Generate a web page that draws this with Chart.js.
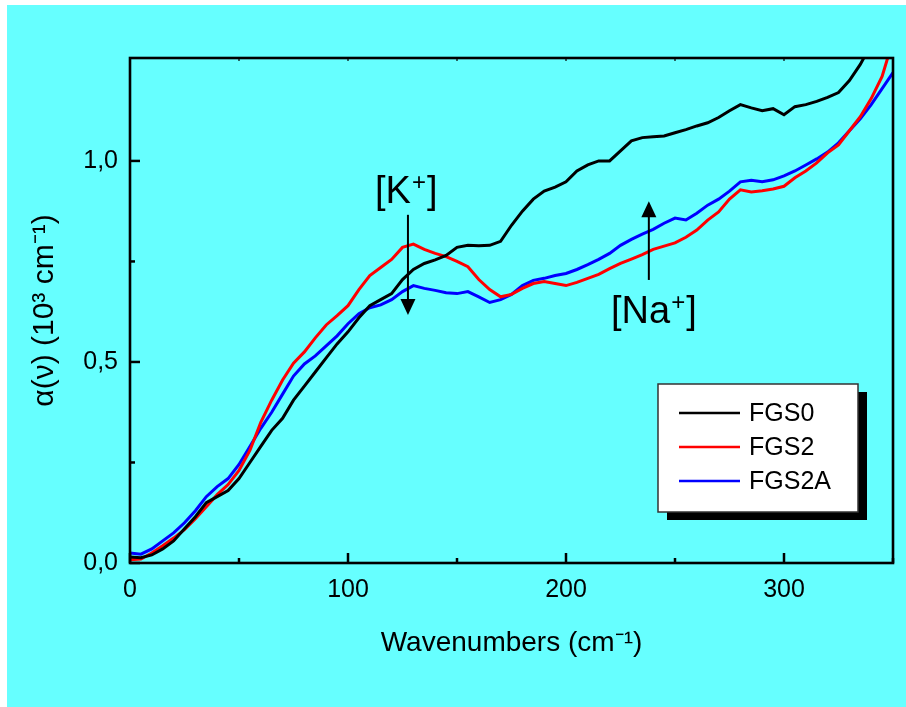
<!DOCTYPE html>
<html><head><meta charset="utf-8">
<script src="https://cdn.jsdelivr.net/npm/chart.js@4.4.1/dist/chart.umd.min.js"></script>
<style>html,body{margin:0;padding:0;background:#fff;}#wrap{position:absolute;left:0;top:0;width:906px;height:707px;}</style>
</head><body><div id="wrap"><canvas id="c" width="906" height="707"></canvas></div>
<script>
const wavenumbers = [0,5,10,15,20,25,30,35,40,45,50,55,60,65,70,75,80,85,90,95,100,105,110,115,120,125,130,135,140,145,150,155,160,165,170,175,180,185,190,195,200,205,210,215,220,225,230,235,240,245,250,255,260,265,270,275,280,285,290,295,300,305,310,315,320,325,330,335,340,345,350];
const fgs0 = [0.015,0.013,0.02,0.035,0.055,0.085,0.115,0.15,0.165,0.18,0.21,0.25,0.29,0.33,0.36,0.405,0.44,0.475,0.51,0.545,0.575,0.61,0.64,0.655,0.67,0.705,0.73,0.745,0.754,0.765,0.785,0.79,0.789,0.79,0.80,0.84,0.875,0.905,0.925,0.935,0.948,0.975,0.99,1.0,1.0,1.025,1.05,1.058,1.06,1.062,1.07,1.078,1.087,1.095,1.108,1.125,1.14,1.132,1.125,1.13,1.115,1.135,1.14,1.148,1.158,1.17,1.20,1.24,1.29];
const fgs2 = [0.008,0.01,0.025,0.043,0.062,0.083,0.11,0.14,0.17,0.195,0.23,0.28,0.35,0.405,0.455,0.497,0.525,0.56,0.592,0.615,0.64,0.68,0.715,0.735,0.755,0.785,0.793,0.78,0.77,0.762,0.75,0.737,0.705,0.68,0.662,0.668,0.683,0.695,0.70,0.695,0.69,0.698,0.708,0.718,0.732,0.745,0.756,0.767,0.78,0.788,0.796,0.81,0.828,0.853,0.873,0.905,0.928,0.923,0.926,0.93,0.937,0.958,0.975,0.995,1.02,1.04,1.075,1.11,1.155,1.21,1.30];
const fgs2a = [0.025,0.022,0.035,0.055,0.075,0.1,0.13,0.165,0.19,0.21,0.245,0.29,0.335,0.375,0.42,0.465,0.495,0.515,0.54,0.565,0.595,0.62,0.635,0.642,0.655,0.675,0.69,0.683,0.678,0.672,0.67,0.675,0.662,0.648,0.655,0.668,0.69,0.703,0.708,0.715,0.72,0.73,0.742,0.755,0.77,0.79,0.805,0.818,0.83,0.845,0.858,0.853,0.87,0.89,0.905,0.925,0.948,0.952,0.948,0.953,0.963,0.975,0.99,1.005,1.022,1.045,1.075,1.105,1.14,1.18,1.22];
const seriesNames = ['FGS0','FGS2','FGS2A'];
const seriesColors = ['#000000','#ff0000','#0000ff'];
const xTickValues = [0,50,100,150,200,250,300,350];
const xTickLabels = ['0','','100','','200','','300',''];
const yTickValues = [0,0.25,0.5,0.75,1.0];
const yTickLabels = ['0,0','','0,5','','1,0'];
const annotations = [
  {text:'[K', sup:'+', tail:']', x:127.5, yFrom:0.866, yTo:0.617, textX:375, textBase:203},
  {text:'[Na', sup:'+', tail:']', x:238, yFrom:0.704, yTo:0.90, textX:611, textBase:323}
];
const FONT = '"Liberation Sans", Arial, sans-serif';

function mk(vals){ return wavenumbers.slice(0, vals.length).map((w,i)=>({x:w,y:vals[i]})); }

const bgPlugin = {
  id:'bg',
  beforeDraw(chart){
    const ctx = chart.ctx;
    ctx.save();
    ctx.fillStyle = '#ffffff';
    ctx.fillRect(0,0,chart.width,chart.height);
    ctx.fillStyle = '#66ffff';
    ctx.fillRect(7,5,chart.width-7,chart.height-5);
    ctx.restore();
  }
};

const framePlugin = {
  id:'frame',
  afterDraw(chart){
    const ctx = chart.ctx, a = chart.chartArea;
    const xs = chart.scales.x, ys = chart.scales.y;
    ctx.save();
    ctx.strokeStyle = '#000';
    ctx.lineWidth = 2.5;
    xTickValues.forEach((v,i)=>{
      const px = xs.getPixelForValue(v);
      const len = xTickLabels[i] ? 10 : 5;
      ctx.beginPath(); ctx.moveTo(px, a.bottom); ctx.lineTo(px, a.bottom-len); ctx.stroke();
      ctx.lineWidth = 1.2;
      ctx.beginPath(); ctx.moveTo(px, a.top); ctx.lineTo(px, a.top+3); ctx.stroke();
      ctx.lineWidth = 2.5;
    });
    yTickValues.forEach((v,i)=>{
      const py = ys.getPixelForValue(v);
      const len = yTickLabels[i] ? 10 : 5;
      ctx.beginPath(); ctx.moveTo(a.left, py); ctx.lineTo(a.left+len, py); ctx.stroke();
    });
    ctx.lineWidth = 2.6;
    ctx.strokeRect(a.left, a.top, a.right-a.left, a.bottom-a.top);

    annotations.forEach(an=>{
      const px = xs.getPixelForValue(an.x);
      const y1 = ys.getPixelForValue(an.yFrom), y2 = ys.getPixelForValue(an.yTo);
      const dir = y2 > y1 ? 1 : -1;
      ctx.lineWidth = 2;
      ctx.beginPath(); ctx.moveTo(px, y1); ctx.lineTo(px, y2 - dir*14); ctx.stroke();
      ctx.fillStyle = '#000';
      ctx.beginPath(); ctx.moveTo(px, y2); ctx.lineTo(px-7.5, y2-dir*16); ctx.lineTo(px+7.5, y2-dir*16); ctx.closePath(); ctx.fill();
      ctx.textBaseline = 'alphabetic'; ctx.textAlign = 'left';
      ctx.font = '38px ' + FONT;
      let tx = an.textX;
      ctx.fillText(an.text, tx, an.textBase); tx += ctx.measureText(an.text).width + 1;
      ctx.font = '24px ' + FONT;
      ctx.fillText(an.sup, tx, an.textBase - 13); tx += ctx.measureText(an.sup).width + 1;
      ctx.font = '38px ' + FONT;
      ctx.fillText(an.tail, tx, an.textBase);
    });

    const L = {x:658, y:384, w:200, h:128};
    ctx.fillStyle = '#000';
    ctx.fillRect(L.x+9, L.y+8, L.w, L.h);
    ctx.fillStyle = '#fff';
    ctx.fillRect(L.x, L.y, L.w, L.h);
    ctx.strokeStyle = '#333';
    ctx.lineWidth = 1.5;
    ctx.strokeRect(L.x, L.y, L.w, L.h);
    chart.data.datasets.forEach((ds,i)=>{
      const ry = 413 + i*34;
      ctx.strokeStyle = ds.borderColor; ctx.lineWidth = 2.5;
      ctx.beginPath(); ctx.moveTo(679, ry); ctx.lineTo(740, ry); ctx.stroke();
      ctx.fillStyle = '#000'; ctx.font = '25px ' + FONT;
      ctx.textBaseline = 'middle'; ctx.textAlign = 'left';
      ctx.fillText(ds.label, 749, ry+1);
    });
    ctx.restore();
  }
};

new Chart(document.getElementById('c'), {
  type:'line',
  data:{
    datasets:[
      {label:seriesNames[0], data:mk(fgs0), borderColor:seriesColors[0], borderWidth:3, pointRadius:0, tension:0, fill:false},
      {label:seriesNames[1], data:mk(fgs2), borderColor:seriesColors[1], borderWidth:3, pointRadius:0, tension:0, fill:false},
      {label:seriesNames[2], data:mk(fgs2a), borderColor:seriesColors[2], borderWidth:3, pointRadius:0, tension:0, fill:false}
    ]
  },
  options:{
    responsive:false, animation:false, events:[],
    layout:{padding:{top:58, right:13, left:0, bottom:0}},
    plugins:{legend:{display:false}, tooltip:{enabled:false}},
    scales:{
      x:{
        type:'linear', min:0, max:350,
        afterBuildTicks(s){ s.ticks = xTickValues.map(v=>({value:v})); },
        afterFit(s){ s.height = 144; },
        grid:{display:false, drawTicks:false},
        border:{display:false},
        ticks:{autoSkip:false, maxRotation:0, padding:12, color:'#000', font:{family:FONT, size:25}, callback:(v,i)=>xTickLabels[i]},
        title:{display:true, text:'Wavenumbers (cm\u207B\u00B9)', color:'#000', font:{family:FONT, size:28}, padding:{top:0, bottom:47}}
      },
      y:{
        type:'linear', min:0, max:1.256,
        afterBuildTicks(s){ s.ticks = yTickValues.map(v=>({value:v})); },
        afterFit(s){ s.width = 130; },
        grid:{display:false, drawTicks:false},
        border:{display:false},
        ticks:{autoSkip:false, padding:12, color:'#000', font:{family:FONT, size:25}, callback:(v,i)=>yTickLabels[i]},
        title:{display:true, text:'\u03B1(\u03BD) (10\u00B3 cm\u207B\u00B9)', color:'#000', font:{family:FONT, size:30}, padding:{top:27, bottom:0}}
      }
    }
  },
  plugins:[bgPlugin, framePlugin]
});
</script></body></html>
